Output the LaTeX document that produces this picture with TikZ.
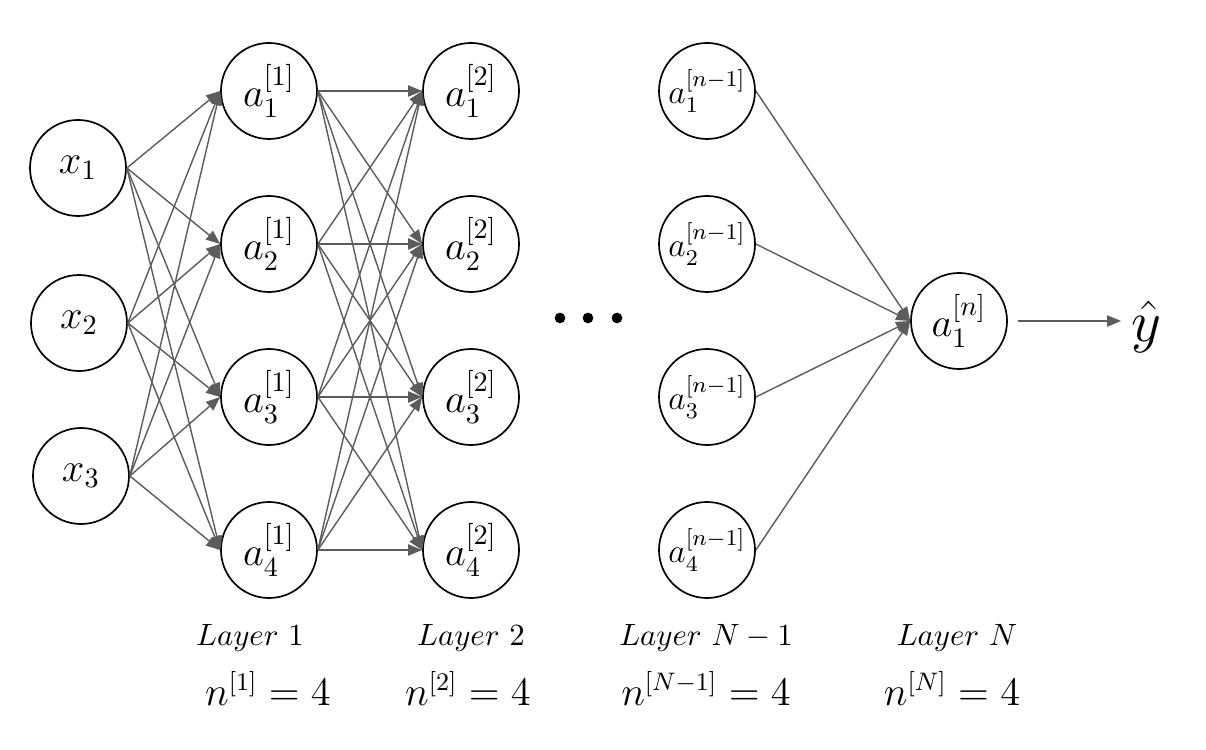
\documentclass[tikz,border=0pt]{standalone}
\usepackage{amsmath,amssymb}
\usepackage{xcolor}
\usetikzlibrary{positioning,arrows.meta}
\definecolor{wire}{HTML}{5C5C5C}

\begin{document}
\begin{tikzpicture}[x=0.0125cm,y=-0.0125cm,>={Triangle[length=5pt,width=4pt]}]
\tikzstyle{neu}=[draw,circle,line width=0.6pt,minimum size=1.2cm,inner sep=0pt,font=\Large]
\tikzstyle{w}=[->,wire,line width=0.5pt]
\tikzstyle{lcap}=[anchor=base,font=\fontsize{10.5}{12}\selectfont]
\tikzstyle{lcnt}=[anchor=base,font=\fontsize{13.5}{16}\selectfont]
\useasboundingbox (0,0) rectangle (1206,750);
% input layer
\node[neu] (x1) at (78,168) {$x_1$};
\node[neu] (x2) at (79,323) {$x_2$};
\node[neu] (x3) at (81,476) {$x_3$};
% hidden layers
\foreach \i/\yy in {1/91,2/244,3/397,4/550} {
  \node[neu] (h\i) at (269,\yy) {$a^{[1]}_{\i}$};
  \node[neu] (g\i) at (471,\yy) {$a^{[2]}_{\i}$};
  \node[neu,font=\large] (p\i) at (707,\yy) {$a^{[n-1]}_{\i}$};
}
\node[neu] (out) at (959,321) {$a^{[n]}_1$};
\node[font=\huge] (yh) at (1146,327) {$\hat{y}$};
% connections
\foreach \s in {x1,x2,x3}
  \foreach \t in {1,...,4}
    \draw[w] (\s.east) -- (h\t.west);
\foreach \s in {1,...,4} {
  \foreach \t in {1,...,4}
    \draw[w] (h\s.east) -- (g\t.west);
  \draw[w] (p\s.east) -- (out.west);
}
\draw[w,shorten <=3.5pt] (out.east) -- (out.east -| yh.west);
\foreach \xd [count=\k] in {560,588,617}
  \fill (\xd,318) circle (1.9pt) coordinate (d\k);
% layer captions
\node[lcap] (l1) at (250,645) {$Layer\ 1$};
\node[lcap] (l2) at (471,645) {$Layer\ 2$};
\node[lcap] (l3) at (706,645) {$Layer\ N-1$};
\node[lcap] (l4) at (957,645) {$Layer\ N$};
\node[lcnt] (n1) at (268,705) {$n^{[1]}=4$};
\node[lcnt] (n2) at (468,705) {$n^{[2]}=4$};
\node[lcnt] (n3) at (706,705) {$n^{[N-1]}=4$};
\node[lcnt] (n4) at (952,705) {$n^{[N]}=4$};
\end{tikzpicture}
\end{document}
